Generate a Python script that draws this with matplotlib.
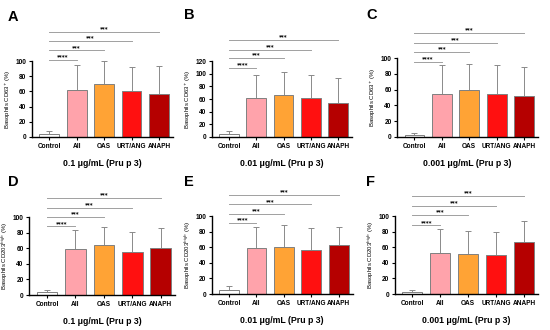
import matplotlib
matplotlib.use("Agg")
import matplotlib.pyplot as plt
import numpy as np

plt.rcParams["font.family"] = ["Liberation Sans", "DejaVu Sans"]

groups = ["Control", "All", "OAS", "URT/ANG", "ANAPH"]
colors = ["#ffffff", "#ffa3ab", "#ffa335", "#ff1010", "#b50000"]

# mean values per panel
means_a = [4, 62, 70, 60, 57]
means_b = [4, 61, 66, 62, 54]
means_c = [3, 55, 59, 55, 52]
means_d = [4, 59, 64, 55, 61]
means_e = [5.5, 59, 60, 56, 63]
means_f = [3, 53, 51, 50, 67]

# upper error bar ends
tops_a = [8, 95, 100, 92, 94]
tops_b = [9, 98, 102, 98, 93]
tops_c = [5.5, 91, 92, 91, 89]
tops_d = [7, 84, 87, 81, 86]
tops_e = [10, 86, 88, 85, 86]
tops_f = [5, 83, 81, 80, 94]

stars = ["****", "***", "***", "***"]
# heights of the significance lines (Control vs All, OAS, URT/ANG, ANAPH)
sig_a = [102, 114, 126, 138]
sig_b = [109, 125, 138, 153]
sig_c = [95, 108, 119, 132]
sig_d = [88, 100, 112, 125]
sig_e = [91, 103, 115, 127]
sig_f = [88, 101, 113, 126]

ymax = [100, 120, 100, 100, 100, 100]
doses = ["0.1 μg/mL (Pru p 3)", "0.01 μg/mL (Pru p 3)", "0.001 μg/mL (Pru p 3)"] * 2
ylabels = ["Basophils CD63$^{+}$ (%)"] * 3 + ["Basophils CD203$^{high}$ (%)"] * 3
letters = ["A", "B", "C", "D", "E", "F"]

panels = [
    (means_a, tops_a, sig_a),
    (means_b, tops_b, sig_b),
    (means_c, tops_c, sig_c),
    (means_d, tops_d, sig_d),
    (means_e, tops_e, sig_e),
    (means_f, tops_f, sig_f),
]

# axes rectangles in figure fraction [left, bottom, width, height]
rects = [
    [0.058, 0.585, 0.256, 0.230],
    [0.385, 0.585, 0.255, 0.230],
    [0.722, 0.585, 0.256, 0.239],
    [0.053, 0.106, 0.265, 0.236],
    [0.385, 0.109, 0.256, 0.236],
    [0.718, 0.109, 0.260, 0.236],
]
letter_pos = [(8, 17), (184, 15), (366, 15), (8, 182), (184, 182), (366, 182)]

fig = plt.figure(figsize=(5.5, 3.3), dpi=100)
x = np.arange(len(groups))

for i, (means, tops, sig) in enumerate(panels):
    ax = fig.add_axes(rects[i])
    means = np.array(means)
    err = np.array(tops) - means
    ax.errorbar(x, means, yerr=[np.zeros_like(err), err], fmt="none",
                ecolor="#8a8a8a", elinewidth=0.7, capsize=2.5, capthick=0.7, zorder=1)
    ax.bar(x, means, width=0.72, color=colors, edgecolor="#808080", linewidth=0.7, zorder=2)

    ax.set_xlim(-0.63, 4.5)
    ax.set_ylim(0, ymax[i])
    ax.set_yticks(np.arange(0, ymax[i] + 1, 20))
    ax.set_xticks(x)
    ax.set_xticklabels(groups, fontsize=4.7, fontweight="bold")
    for lab in ax.get_yticklabels():
        lab.set_fontsize(4.7)
        lab.set_fontweight("bold")
    ax.tick_params(length=2.5, width=0.8, pad=1.5)
    ax.spines["top"].set_visible(False)
    ax.spines["right"].set_visible(False)
    ax.spines["left"].set_linewidth(1)
    ax.spines["bottom"].set_linewidth(1)
    ax.set_ylabel(ylabels[i], fontsize=4.3, labelpad=2)
    ax.set_xlabel(doses[i], fontsize=6.3, fontweight="bold", labelpad=7)

    for j, h in enumerate(sig):
        ax.plot([0, j + 1], [h, h], color="#a0a0a0", lw=0.7, clip_on=False)
        ax.text((j + 1) / 2, h + 1.0, stars[j], fontsize=4, fontweight="bold",
                family="DejaVu Sans", ha="center", va="bottom", clip_on=False)

    lx, ly = letter_pos[i]
    fig.text(lx / 550, 1 - ly / 330, letters[i], fontsize=10.5, fontweight="bold",
             ha="left", va="center")

fig.savefig("out.png", dpi=100)
